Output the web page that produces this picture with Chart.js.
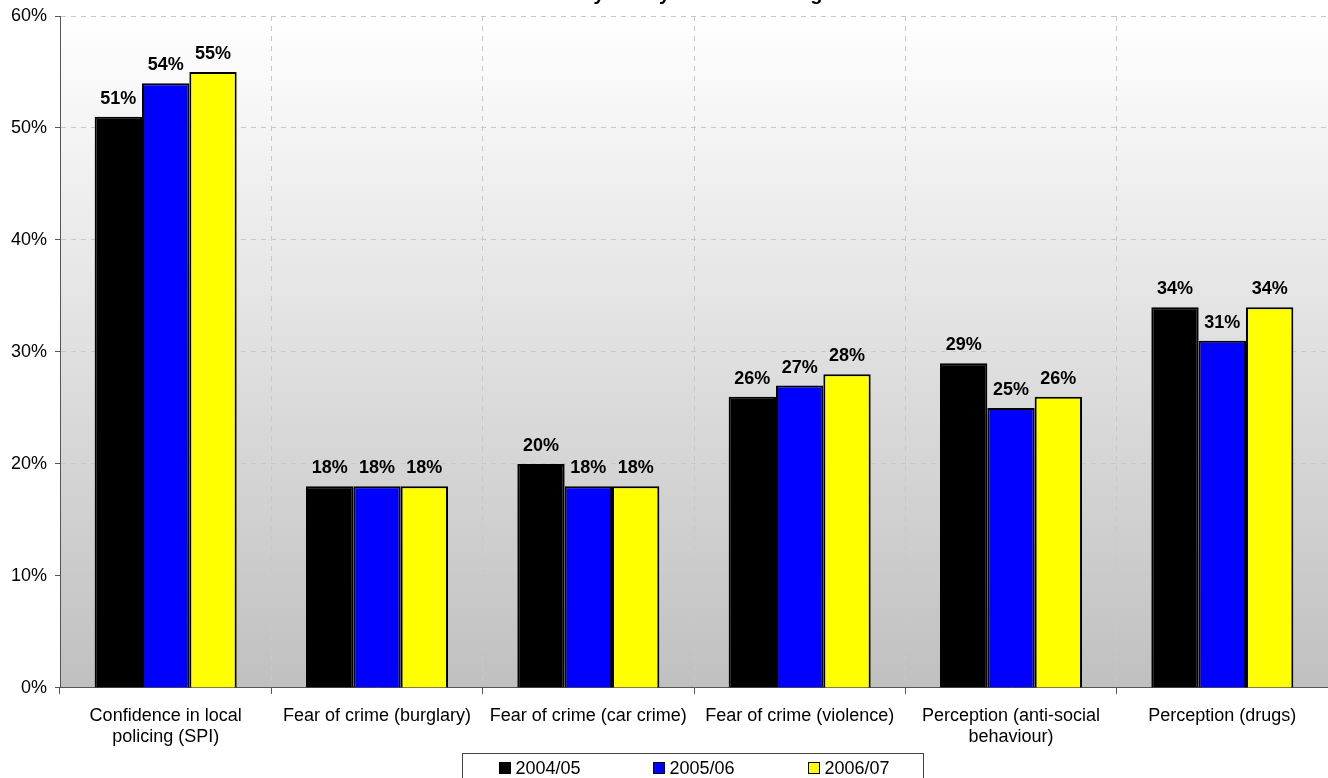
<!DOCTYPE html>
<html>
<head>
<meta charset="utf-8">
<script src="https://cdn.jsdelivr.net/npm/chart.js@4.4.1/dist/chart.umd.min.js"></script>
<style>
  html, body { margin: 0; padding: 0; background: #fff; overflow: hidden; }
  #wrap { position: absolute; left: 0; top: -18px; width: 1328px; height: 796px; }
</style>
</head>
<body>
<div id="wrap"><canvas id="chart"></canvas></div>
<script>
const chartTitle = 'Community Safety Historical Range';
const categories = [
  ['Confidence in local', 'policing (SPI)'],
  'Fear of crime (burglary)',
  'Fear of crime (car crime)',
  'Fear of crime (violence)',
  ['Perception (anti-social', 'behaviour)'],
  'Perception (drugs)'
];
const years = ['2004/05', '2005/06', '2006/07'];
const values0405 = [51, 18, 20, 26, 29, 34];
const values0506 = [54, 18, 18, 27, 25, 31];
const values0607 = [55, 18, 18, 28, 26, 34];
const barColors = ['#000000', '#0000ff', '#ffff00'];

const FONT = "'Liberation Sans', Arial, sans-serif";
const GRID = '#c8c8c8';

// grey fade behind the bars
const plotBackground = {
  id: 'plotBackground',
  beforeDraw(chart) {
    const { ctx, chartArea: a } = chart;
    const g = ctx.createLinearGradient(0, a.top, 0, a.bottom);
    g.addColorStop(0, '#ffffff');
    g.addColorStop(1, '#c0c0c0');
    ctx.save();
    ctx.fillStyle = g;
    ctx.fillRect(a.left, a.top, a.right - a.left, a.bottom - a.top);
    ctx.restore();
  }
};

const valueLabels = {
  id: 'valueLabels',
  afterDatasetsDraw(chart) {
    const ctx = chart.ctx;
    ctx.save();
    ctx.font = 'bold 18px ' + FONT;
    ctx.fillStyle = '#000';
    ctx.textAlign = 'center';
    ctx.textBaseline = 'alphabetic';
    chart.data.datasets.forEach((ds, i) => {
      chart.getDatasetMeta(i).data.forEach((bar, j) => {
        ctx.fillText(ds.data[j] + '%', bar.x, bar.y - 13);
      });
    });
    ctx.restore();
  }
};

// boxed legend under the axis labels
const boxLegend = {
  id: 'boxLegend',
  afterDraw(chart) {
    const { ctx, chartArea: a } = chart;
    const w = 461, stride = 154.5;
    const left = Math.round((a.left + a.right) / 2 - 1.5 - w / 2) + 0.5;
    const top = chart.height - 25 + 0.5;
    ctx.save();
    ctx.fillStyle = '#fff';
    ctx.strokeStyle = '#444';
    ctx.lineWidth = 1;
    ctx.fillRect(left, top, w, 40);
    ctx.strokeRect(left, top, w, 40);
    ctx.font = '18px ' + FONT;
    ctx.textBaseline = 'middle';
    ctx.textAlign = 'left';
    chart.data.datasets.forEach((ds, i) => {
      const x = Math.round(left + 36 + i * stride) + 0.5;
      const cy = top + 14.5;
      ctx.fillStyle = ds.backgroundColor;
      ctx.fillRect(x, cy - 5.5, 11, 11);
      ctx.strokeStyle = '#000';
      ctx.strokeRect(x, cy - 5.5, 11, 11);
      ctx.fillStyle = '#000';
      ctx.fillText(ds.label, x + 16, cy + 1);
    });
    ctx.restore();
  }
};

const datasets = [values0405, values0506, values0607].map((vals, i) => ({
  label: years[i],
  data: vals,
  backgroundColor: barColors[i],
  borderColor: '#000',
  borderWidth: 2,
  barPercentage: 1,
  categoryPercentage: 0.672
}));

new Chart(document.getElementById('chart'), {
  type: 'bar',
  data: { labels: categories, datasets },
  plugins: [plotBackground, valueLabels, boxLegend],
  options: {
    responsive: true,
    maintainAspectRatio: false,
    devicePixelRatio: 1,
    animation: false,
    layout: { padding: { left: 0, right: 0, top: 0, bottom: 18 } },
    plugins: {
      legend: { display: false },
      tooltip: { enabled: false },
      title: {
        display: true,
        text: chartTitle,
        color: '#000',
        font: { family: FONT, size: 20, weight: 'bold', lineHeight: 1.2 },
        padding: { top: 0, bottom: 10 }
      }
    },
    scales: {
      x: {
        grid: {
          offset: true,
          // first line sits on the y axis, keep that one solid
          color: c => (c.index === 0 ? 'rgba(0,0,0,0)' : GRID),
          tickBorderDash: [],
          tickColor: '#555',
          tickLength: 6
        },
        border: { color: '#555', width: 1, dash: [5, 5] },
        ticks: {
          color: '#000',
          font: { family: FONT, size: 18, lineHeight: 1.17 },
          padding: 12,
          maxRotation: 0,
          autoSkip: false
        }
      },
      y: {
        min: 0,
        max: 60,
        afterFit(scale) { scale.width = 60; },
        grid: {
          color: c => (c.index === 0 ? 'rgba(0,0,0,0)' : GRID),
          tickBorderDash: [],
          tickColor: '#555',
          tickLength: 5
        },
        border: { color: '#555', width: 1, dash: [5, 5] },
        ticks: {
          stepSize: 10,
          color: '#000',
          padding: 8,
          font: { family: FONT, size: 18 },
          callback: v => v + '%'
        }
      }
    }
  }
});
</script>
</body>
</html>
